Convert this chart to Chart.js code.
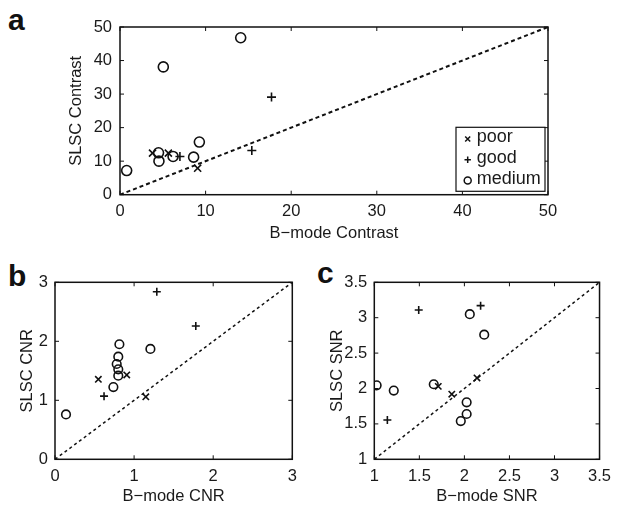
<!DOCTYPE html>
<html><head><meta charset="utf-8">
<script src="https://cdn.jsdelivr.net/npm/chart.js@4.4.1/dist/chart.umd.min.js"></script>
<style>
html,body{margin:0;padding:0;background:#fff;}
body{width:618px;height:506px;position:relative;overflow:hidden;font-family:"Liberation Sans",Arial,sans-serif;}
canvas{position:absolute;}
.lab{position:absolute;font-weight:bold;font-size:30px;line-height:30px;color:#111;}
</style></head><body>
<div class="lab" style="left:8px;top:5px">a</div>
<div class="lab" style="left:8px;top:261px">b</div>
<div class="lab" style="left:317px;top:258px">c</div>
<canvas id="ca" width="618" height="250" style="left:0;top:0"></canvas>
<canvas id="cb" width="309" height="251" style="left:0;top:255px"></canvas>
<canvas id="cc" width="309" height="251" style="left:309px;top:255px"></canvas>
<script>
// ---- Panel a: Contrast ----
const seriesNames = ['poor', 'good', 'medium'];
const contrastPoorX = [3.8, 5.65, 9.07];
const contrastPoorY = [12.4, 12.4, 7.9];
const contrastGoodX = [17.7, 15.4, 7.0];
const contrastGoodY = [29.1, 13.2, 11.4];
const contrastMediumX = [14.1, 5.06, 9.27, 4.5, 4.55, 6.2, 8.6, 0.78];
const contrastMediumY = [46.8, 38.1, 15.7, 12.5, 10.0, 11.4, 11.2, 7.2];
const contrastTicks = [0, 10, 20, 30, 40, 50];
const contrastTickLabels = ['0', '10', '20', '30', '40', '50'];

// ---- Panel b: CNR ----
const cnrPoorX = [0.907, 0.548, 1.148];
const cnrPoorY = [1.43, 1.356, 1.06];
const cnrGoodX = [1.287, 1.78, 0.62];
const cnrGoodY = [2.84, 2.26, 1.07];
const cnrMediumX = [0.814, 1.206, 0.80, 0.78, 0.80, 0.80, 0.738, 0.139];
const cnrMediumY = [1.95, 1.87, 1.74, 1.615, 1.525, 1.417, 1.225, 0.76];
const cnrTicks = [0, 1, 2, 3];
const cnrTickLabels = ['0', '1', '2', '3'];

// ---- Panel c: SNR ----
const snrPoorX = [2.14, 1.71, 1.86];
const snrPoorY = [2.15, 2.03, 1.92];
const snrGoodX = [1.493, 2.18, 1.145];
const snrGoodY = [3.109, 3.17, 1.555];
const snrMediumX = [2.06, 2.22, 1.66, 1.026, 1.216, 2.025, 2.025, 1.96];
const snrMediumY = [3.05, 2.76, 2.06, 2.045, 1.97, 1.805, 1.64, 1.54];
const snrTicks = [1, 1.5, 2, 2.5, 3, 3.5];
const snrTickLabels = ['1', '1.5', '2', '2.5', '3', '3.5'];

const FONT = '"Liberation Sans", Arial, sans-serif';
const TXT = '#1a1a1a';

function pts(xs, ys) { return xs.map((x, i) => ({x: x, y: ys[i]})); }

const framePlugin = {
  id: 'frame',
  afterDatasetsDraw(chart) {
    const {ctx, chartArea: ca, scales: {x, y}} = chart;
    ctx.save();
    ctx.strokeStyle = '#111';
    ctx.lineWidth = 1.5;
    ctx.strokeRect(ca.left, ca.top, ca.right - ca.left, ca.bottom - ca.top);
    ctx.lineWidth = 1;
    const tl = 4;
    ctx.beginPath();
    x.ticks.forEach(t => {
      const px = x.getPixelForValue(t.value);
      ctx.moveTo(px, ca.bottom); ctx.lineTo(px, ca.bottom - tl);
      ctx.moveTo(px, ca.top); ctx.lineTo(px, ca.top + tl);
    });
    y.ticks.forEach(t => {
      const py = y.getPixelForValue(t.value);
      ctx.moveTo(ca.left, py); ctx.lineTo(ca.left + tl, py);
      ctx.moveTo(ca.right, py); ctx.lineTo(ca.right - tl, py);
    });
    ctx.stroke();
    ctx.restore();
  }
};

const legendPlugin = {
  id: 'boxLegend',
  afterDraw(chart, args, opts) {
    if (!opts || !opts.show) return;
    const {ctx, chartArea: ca} = chart;
    const w = 89, h = 64;
    const L = ca.right - 3 - w, T = ca.bottom - 3.4 - h;
    ctx.save();
    ctx.fillStyle = '#fff';
    ctx.fillRect(L, T, w, h);
    ctx.strokeStyle = '#111';
    ctx.lineWidth = 1.2;
    ctx.strokeRect(L, T, w, h);
    const ys = [T + 11.7, T + 32.5, T + 53.2];
    const mx = L + 11.7;
    ctx.lineWidth = 1.5;
    // poor: x
    ctx.beginPath();
    ctx.moveTo(mx - 2.5, ys[0] - 2.5); ctx.lineTo(mx + 2.5, ys[0] + 2.5);
    ctx.moveTo(mx - 2.5, ys[0] + 2.5); ctx.lineTo(mx + 2.5, ys[0] - 2.5);
    // good: +
    ctx.moveTo(mx - 3.2, ys[1]); ctx.lineTo(mx + 3.2, ys[1]);
    ctx.moveTo(mx, ys[1] - 3.2); ctx.lineTo(mx, ys[1] + 3.2);
    ctx.stroke();
    // medium: o
    ctx.beginPath();
    ctx.arc(mx, ys[2], 3.5, 0, Math.PI * 2);
    ctx.stroke();
    ctx.fillStyle = TXT;
    ctx.font = '18px ' + FONT;
    ctx.textBaseline = 'middle';
    ctx.textAlign = 'left';
    seriesNames.forEach((n, i) => ctx.fillText(n, L + 20.7, ys[i] - 1.5));
    ctx.restore();
  }
};

function makePanel(id, g) {
  const fs = 16.5;
  const mk = (label, data, style, r) => ({
    label: label, data: data, pointStyle: style, pointRadius: r, pointHoverRadius: r,
    borderColor: '#111', backgroundColor: 'rgba(0,0,0,0)', pointBorderWidth: 1.6, borderWidth: 1.6, showLine: false
  });
  const datasets = [
    {label: 'identity', data: [{x: g.min, y: g.min}, {x: g.max, y: g.max}], showLine: true,
     borderColor: '#111', borderWidth: g.dashW, borderDash: g.dash, pointRadius: 0, pointHoverRadius: 0},
    mk(seriesNames[0], pts(g.poorX, g.poorY), 'crossRot', g.rx),
    mk(seriesNames[1], pts(g.goodX, g.goodY), 'cross', g.rp),
    mk(seriesNames[2], pts(g.medX, g.medY), 'circle', g.ro)
  ];
  const axis = (isX) => ({
    type: 'linear', min: g.min, max: g.max,
    grid: {display: false, drawTicks: false},
    border: {display: false},
    afterBuildTicks: (s) => { s.ticks = g.ticks.map(v => ({value: v})); },
    afterFit: (s) => { if (isX) s.height = g.xh; else s.width = g.yw; },
    ticks: {
      color: TXT, font: {family: FONT, size: fs}, padding: isX ? g.xpad : g.ypad,
      maxRotation: 0, autoSkip: false,
      callback: (v) => { const i = g.ticks.indexOf(v); return i >= 0 ? g.labels[i] : ''; }
    },
    title: {display: true, text: isX ? g.xTitle : g.yTitle, color: TXT,
      font: {family: FONT, size: fs},
      padding: isX ? {top: 0, bottom: g.xtp} : {top: g.ytp, bottom: 0}}
  });
  new Chart(document.getElementById(id), {
    type: 'scatter',
    data: {datasets: datasets},
    options: {
      responsive: false, animation: false,
      layout: {padding: {left: 0, top: g.pt, right: g.pr, bottom: 0}},
      plugins: {legend: {display: false}, tooltip: {enabled: false}, boxLegend: {show: !!g.legend}},
      scales: {x: axis(true), y: axis(false)}
    },
    plugins: [framePlugin, legendPlugin]
  });
}

makePanel('ca', {
  min: 0, max: 50, ticks: contrastTicks, labels: contrastTickLabels,
  poorX: contrastPoorX, poorY: contrastPoorY, goodX: contrastGoodX, goodY: contrastGoodY,
  medX: contrastMediumX, medY: contrastMediumY,
  xTitle: 'B\u2212mode Contrast', yTitle: 'SLSC Contrast',
  yw: 120, xh: 55.3, pt: 27, pr: 70, xpad: 7, ypad: 8, xtp: 7, ytp: 67,
  dash: [4, 3], dashW: 2, rx: 5, rp: 4.5, ro: 5, legend: true
});
makePanel('cb', {
  min: 0, max: 3, ticks: cnrTicks, labels: cnrTickLabels,
  poorX: cnrPoorX, poorY: cnrPoorY, goodX: cnrGoodX, goodY: cnrGoodY,
  medX: cnrMediumX, medY: cnrMediumY,
  xTitle: 'B\u2212mode CNR', yTitle: 'SLSC CNR',
  yw: 55, xh: 46.7, pt: 27.3, pr: 16.7, xpad: 7, ypad: 7, xtp: 0, ytp: 17.6,
  dash: [3, 3], dashW: 1.5, rx: 4.5, rp: 4, ro: 4.3
});
makePanel('cc', {
  min: 1, max: 3.5, ticks: snrTicks, labels: snrTickLabels,
  poorX: snrPoorX, poorY: snrPoorY, goodX: snrGoodX, goodY: snrGoodY,
  medX: snrMediumX, medY: snrMediumY,
  xTitle: 'B\u2212mode SNR', yTitle: 'SLSC SNR',
  yw: 65.3, xh: 46.7, pt: 27.3, pr: 12, xpad: 7, ypad: 7, xtp: 0, ytp: 18.8,
  dash: [3, 3], dashW: 1.5, rx: 4.5, rp: 4, ro: 4.3
});
</script>
</body></html>
